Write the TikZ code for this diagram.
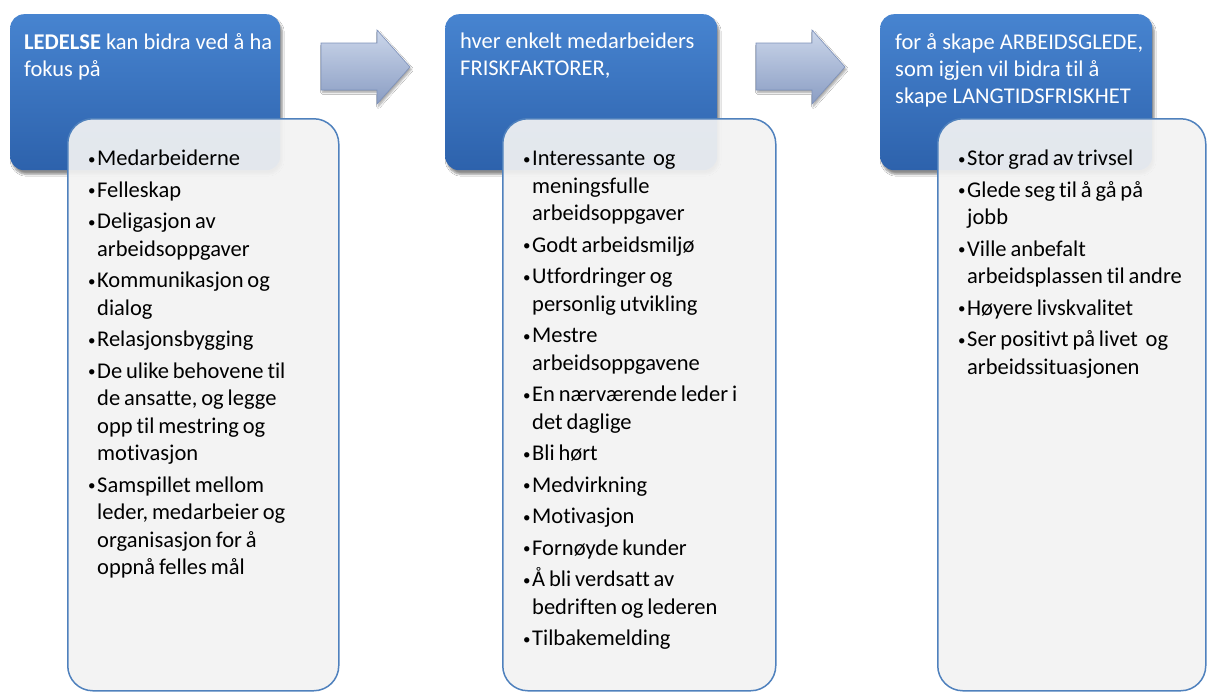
\documentclass[tikz,border=0pt]{standalone}
\usepackage{fontspec}
\setmainfont{Carlito}[Ligatures={NoCommon}]
\usetikzlibrary{shadows.blur}
\definecolor{bluetop}{HTML}{4784D0}
\definecolor{bluebot}{HTML}{2D62AC}
\definecolor{lightfill}{HTML}{F3F3F3}
\definecolor{lightborder}{HTML}{4F81BD}
\definecolor{arrtop}{HTML}{CBD6EA}
\definecolor{arrbot}{HTML}{8A9DC3}
\definecolor{arredge}{HTML}{7D91BA}
\newcommand\smallbul{\raisebox{1.5pt}{\fontsize{15}{15}\selectfont •}}
\newcommand\bul[1]{\par\noindent\makebox[9pt][l]{\smallbul}#1}
\newcommand\ind{\newline\hspace*{9pt}}
\begin{document}
\begin{tikzpicture}[x=1pt,y=-1pt,
  headbox/.style={rounded corners=14pt, top color=bluetop, bottom color=bluebot, draw=none,
    minimum width=270pt, minimum height=156pt, anchor=north west, inner sep=0pt,
    blur shadow={shadow xshift=2pt, shadow yshift=-4pt, shadow blur steps=6, shadow opacity=45}},
  headtext/.style={text=white, font=\fontsize{22.5}{27}\selectfont, align=left, inner sep=0pt, anchor=north west},
  listbox/.style={rounded corners=25pt, fill=lightfill, fill opacity=0.92, draw=lightborder, draw opacity=1,
    line width=1.5pt, anchor=north west, inner sep=0pt},
  listtext/.style={text=black, font=\fontsize{22.5}{27.5}\selectfont, text width=270pt, inner sep=0pt, anchor=north west,
    execute at begin node={\parskip=4pt\parindent=0pt\rightskip=0pt plus 1fil\parfillskip=0pt plus 1fil\spaceskip=3.9pt plus 1pt minus 1pt}},
  arrowshape/.style={top color=arrtop, bottom color=arrbot, draw=arredge, line width=0.6pt, line join=miter,
    blur shadow={shadow xshift=1.5pt, shadow yshift=-2.5pt, shadow blur steps=5, shadow opacity=35}}
]
\useasboundingbox[fill=white] (0,0) rectangle (1207,691);

% column 1
\node[headbox] (h1) at (10,14) {};
\node[headtext] (t1) at (24,33) {\textbf{LEDELSE} kan bidra ved å ha\\fokus på};
\node[listbox, minimum width=271pt, minimum height=572pt] (l1) at (67,118) {};
\node[listtext] (b1) at (88,134) {%
\bul{Medarbeiderne}
\bul{Felleskap}
\bul{Deligasjon av\ind arbeidsoppgaver}
\bul{Kommunikasjon og\ind dialog}
\bul{Relasjonsbygging}
\bul{De ulike behovene til\ind de ansatte, og legge\ind opp til mestring og\ind motivasjon}
\bul{Samspillet mellom\ind leder, medarbeier og\ind organisasjon for å\ind oppnå felles mål}};

% arrow 1
\path[arrowshape] (321,43) -- (377,43) -- (377,30) -- (410,67) -- (377,104) -- (377,90) -- (321,90) -- cycle;

% column 2
\node[headbox, minimum width=272pt] (h2) at (445,14) {};
\node[headtext] (t2) at (460,33) {hver enkelt medarbeiders\\FRISKFAKTORER,};
\node[listbox, minimum width=273pt, minimum height=572pt] (l2) at (502,118) {};
\node[listtext] (b2) at (523,134) {%
\bul{Interessante\ \ og\ind meningsfulle\ind arbeidsoppgaver}
\bul{Godt arbeidsmiljø}
\bul{Utfordringer og\ind personlig utvikling}
\bul{Mestre\ind arbeidsoppgavene}
\bul{En nærværende leder i\ind det daglige}
\bul{Bli hørt}
\bul{Medvirkning}
\bul{Motivasjon}
\bul{Fornøyde kunder}
\bul{Å bli verdsatt av\ind bedriften og lederen}
\bul{Tilbakemelding}};

% arrow 2
\path[arrowshape] (756,43) -- (812,43) -- (812,30) -- (845,67) -- (812,104) -- (812,90) -- (756,90) -- cycle;

% column 3
\node[headbox, minimum width=272pt] (h3) at (880,14) {};
\node[headtext] (t3) at (895,33) {for å skape ARBEIDSGLEDE,\\som igjen vil bidra til å\\skape LANGTIDSFRISKHET};
\node[listbox, minimum width=268pt, minimum height=572pt] (l3) at (937,118) {};
\node[listtext] (b3) at (958,134) {%
\bul{Stor grad av trivsel}
\bul{Glede seg til å gå på\ind jobb}
\bul{Ville anbefalt\ind arbeidsplassen til andre}
\bul{Høyere livskvalitet}
\bul{Ser positivt på livet\ \ og\ind arbeidssituasjonen}};
\end{tikzpicture}
\end{document}
